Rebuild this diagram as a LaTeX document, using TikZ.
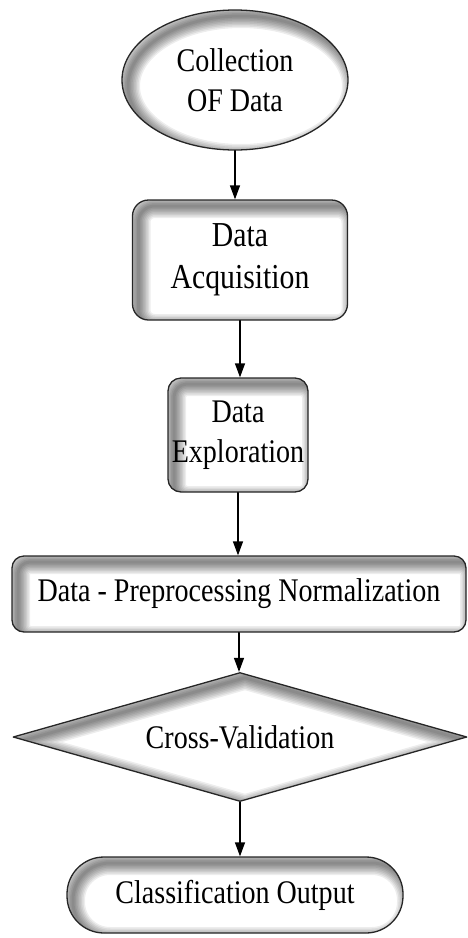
\documentclass[tikz,border=0pt]{standalone}
\usepackage{fontspec}
\setmainfont[FakeStretch=0.85]{Liberation Serif}
\usetikzlibrary{shapes.geometric,arrows.meta}
\begin{document}
\begin{tikzpicture}[x=1pt, y=-1pt, line cap=round, line join=round,
    flowbox/.style={draw=black!85, line width=1.3pt, fill=white,
      align=center, inner sep=0pt,
      font=\fontsize{33}{40}\selectfont},
    % grey rim inside each shape: a stack of faint strokes, nudged to the
    % lower right so the rim comes out wider on the top and left
    rimbox/.style={path picture={
      \foreach \w in {3,6,...,24}
        \draw[line width=\w pt, black, opacity=0.07, rounded corners=#1]
          ([shift={(6,6)}]path picture bounding box.north west) rectangle
          ([shift={(6,6)}]path picture bounding box.south east);}},
    rimoval/.style={path picture={
      \foreach \w in {3,6,...,24}
        \draw[line width=\w pt, black, opacity=0.07]
          ([shift={(6,6)}]path picture bounding box.center)
          ellipse [x radius=113, y radius=70];}},
    rimdiamond/.style={path picture={
      \foreach \w in {3,6,...,24}
        \draw[line width=\w pt, black, opacity=0.07]
          ([shift={(5,5)}]path picture bounding box.north) --
          ([shift={(5,5)}]path picture bounding box.east) --
          ([shift={(5,5)}]path picture bounding box.south) --
          ([shift={(5,5)}]path picture bounding box.west) -- cycle;}},
    flowarrow/.style={line width=1.3pt,
      -{Triangle[width=10pt, length=14pt]}}]
  % Whole page: 467 wide, 938 high, y counted downwards.
  \useasboundingbox (0,0) rectangle (467,938);
  % Start: ellipse at the top.
  \node[flowbox, rimoval, ellipse, minimum width=226, minimum height=140]
    (coll) at (235,80) {Collection\\OF Data};
  % Two rounded boxes in the middle.
  \node[flowbox, rimbox=16pt, rounded corners=16pt, minimum width=215,
    minimum height=120, font=\fontsize{35}{42}\selectfont]
    (acq) at (240,260) {Data\\Acquisition};
  \node[flowbox, rimbox=13pt, rounded corners=13pt, minimum width=140,
    minimum height=114]
    (expl) at (238,435) {Data\\Exploration};
  % Wide box, runs to the right edge of the page.
  \node[flowbox, rimbox=12pt, rounded corners=12pt, minimum width=454,
    minimum height=76]
    (prep) at (239,594) {Data - Preprocessing Normalization};
  % Decision diamond, also nearly page wide.
  \node[flowbox, rimdiamond, diamond, aspect=3.5, minimum width=454,
    minimum height=129]
    (cv) at (240,737) {Cross-Validation};
  % End: stadium shape.
  \node[flowbox, rimbox=37pt, rounded corners=37pt, minimum width=336,
    minimum height=76]
    (out) at (235,895) {Classification Output};
  % Arrows straight down from each node to the next one.
  \draw[flowarrow] (coll.south) -- (coll.south |- acq.north);
  \draw[flowarrow] (acq.south) -- (acq.south |- expl.north);
  \draw[flowarrow] (expl.south) -- (expl.south |- prep.north);
  \draw[flowarrow] (prep.south) -- (prep.south |- cv.north);
  \draw[flowarrow] (cv.south) -- (cv.south |- out.north);
\end{tikzpicture}
\end{document}
